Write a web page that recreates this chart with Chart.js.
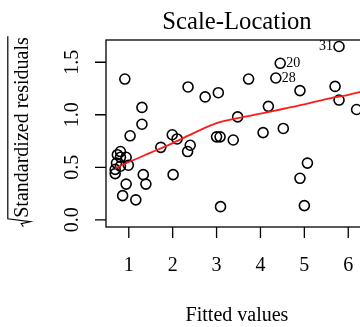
<!DOCTYPE html>
<html>
<head>
<meta charset="utf-8">
<script src="https://cdn.jsdelivr.net/npm/chart.js@4"></script>
<style>
  html, body { margin: 0; padding: 0; background: #fff; overflow: hidden; }
  #wrap { position: absolute; left: 0; top: 0; width: 400px; height: 327px; }
</style>
</head>
<body>
<div id="wrap"><canvas id="chartSL" width="400" height="327"></canvas></div>
<script>
// fitted values and sqrt(|standardized residuals|)
const fitted = [
  0.91, 1.30, 1.30, 1.03, 1.99, 2.10, 1.73, 2.40, 2.34, 2.35,
  2.74, 3.04, 3.73, 4.35, 4.45, 5.79, 4.90, 5.70, 5.79, 6.19,
  4.18, 3.48, 4.06, 4.52, 3.00, 3.08, 3.38, 2.01, 3.09, 4.90,
  5.07, 5.00, 1.33, 1.39, 0.94, 0.86, 1.16,
  0.69, 0.69, 0.72, 0.74, 0.81, 0.81, 0.81, 0.94, 0.99
];
const sqrtResid = [
  1.34, 1.07, 0.91, 0.80, 0.81, 0.77, 0.69, 0.71, 0.65, 1.265,
  1.17, 1.21, 1.34, 1.35, 1.49, 1.65, 1.23, 1.27, 1.14, 1.05,
  1.08, 0.98, 0.83, 0.87, 0.79, 0.79, 0.76, 0.43, 0.125, 0.395,
  0.54, 0.135, 0.43, 0.34, 0.34, 0.23, 0.19,
  0.44, 0.48, 0.54, 0.62, 0.65, 0.595, 0.51, 0.595, 0.52
];

// observations flagged with their row number
const flagIndex = [13, 14, 15];
const flagText = ["28", "20", "31"];

// smoother
const smoothX = [0.69, 1.0, 1.5, 2.0, 2.5, 3.0, 3.5, 4.0, 4.5, 5.0, 5.5, 6.0, 6.5];
const smoothY = [0.49, 0.55, 0.64, 0.73, 0.83, 0.92, 0.97, 1.01, 1.055, 1.10, 1.15, 1.19, 1.24];

const xTicks = [1, 2, 3, 4, 5, 6];
const yTicks = [0, 0.5, 1, 1.5];
const yTickText = ["0.0", "0.5", "1.0", "1.5"];

const serif = "'Liberation Serif', 'Times New Roman', serif";

// R style box, axes and labels
const baseGraphics = {
  id: 'baseGraphics',
  afterDraw(chart) {
    const c = chart.ctx;
    const a = chart.chartArea;
    const xs = chart.scales.x, ys = chart.scales.y;
    c.save();
    c.strokeStyle = '#000';
    c.fillStyle = '#000';
    c.lineWidth = 1.3;
    c.strokeRect(a.left, a.top, a.right - a.left, a.bottom - a.top);

    // x axis
    c.beginPath();
    xTicks.forEach(v => {
      const px = xs.getPixelForValue(v);
      c.moveTo(px, a.bottom);
      c.lineTo(px, a.bottom + 11);
    });
    c.stroke();
    c.font = "20px " + serif;
    c.textAlign = 'center';
    c.textBaseline = 'alphabetic';
    xTicks.forEach(v => c.fillText(String(v), xs.getPixelForValue(v), 271));

    // y axis
    c.beginPath();
    yTicks.forEach(v => {
      const py = ys.getPixelForValue(v);
      c.moveTo(a.left, py);
      c.lineTo(a.left - 11, py);
    });
    c.stroke();
    yTicks.forEach((v, i) => {
      c.save();
      c.translate(78, ys.getPixelForValue(v));
      c.rotate(-Math.PI / 2);
      c.fillText(yTickText[i], 0, 0);
      c.restore();
    });

    const midX = (a.left + a.right) / 2;
    const midY = (a.top + a.bottom) / 2;

    // titles
    c.font = "24.7px " + serif;
    c.fillText('Scale-Location', midX, 29.3);
    c.font = "20px " + serif;
    c.fillText('Fitted values', midX, 321);

    // sqrt(Standardized residuals)
    c.save();
    c.translate(28.3, midY);
    c.rotate(-Math.PI / 2);
    c.textAlign = 'left';
    const lbl = 'Standardized residuals';
    const w = c.measureText(lbl).width;
    const x0 = -w / 2 + 6;
    c.fillText(lbl, x0, 0);
    c.lineWidth = 1.2;
    c.beginPath();
    c.moveTo(x0 - 9, -5);
    c.lineTo(x0 - 6, -7);
    c.lineTo(x0 - 4, 2);
    c.lineTo(x0 - 1, -20.5);
    c.lineTo(x0 + w + 1, -20.5);
    c.stroke();
    c.restore();

    // flagged points
    const pts = chart.getDatasetMeta(1).data;
    c.font = "14px " + serif;
    c.textBaseline = 'middle';
    flagIndex.forEach((idx, i) => {
      const p = pts[idx];
      const right = fitted[idx] < 5;
      c.textAlign = right ? 'left' : 'right';
      c.fillText(flagText[i], p.x + (right ? 6 : -6), p.y);
    });
    c.restore();
  }
};

new Chart(document.getElementById('chartSL'), {
  type: 'scatter',
  data: {
    datasets: [
      {
        type: 'line',
        data: smoothX.map((x, i) => ({ x: x, y: smoothY[i] })),
        borderColor: '#ff1a1a',
        borderWidth: 1.8,
        pointRadius: 0,
        fill: false,
        cubicInterpolationMode: 'monotone'
      },
      {
        data: fitted.map((x, i) => ({ x: x, y: sqrtResid[i] })),
        pointStyle: 'circle',
        pointRadius: 5,
        borderWidth: 1.6,
        borderColor: '#000',
        backgroundColor: 'rgba(0,0,0,0)'
      }
    ]
  },
  options: {
    responsive: false,
    animation: false,
    devicePixelRatio: 1,
    layout: { padding: { left: 106, top: 40, right: 32, bottom: 100 } },
    plugins: {
      legend: { display: false },
      tooltip: { enabled: false }
    },
    scales: {
      x: { type: 'linear', display: false, min: 0.481, max: 6.45 },
      y: { type: 'linear', display: false, min: -0.0686, max: 1.712 }
    }
  },
  plugins: [baseGraphics]
});
</script>
</body>
</html>
